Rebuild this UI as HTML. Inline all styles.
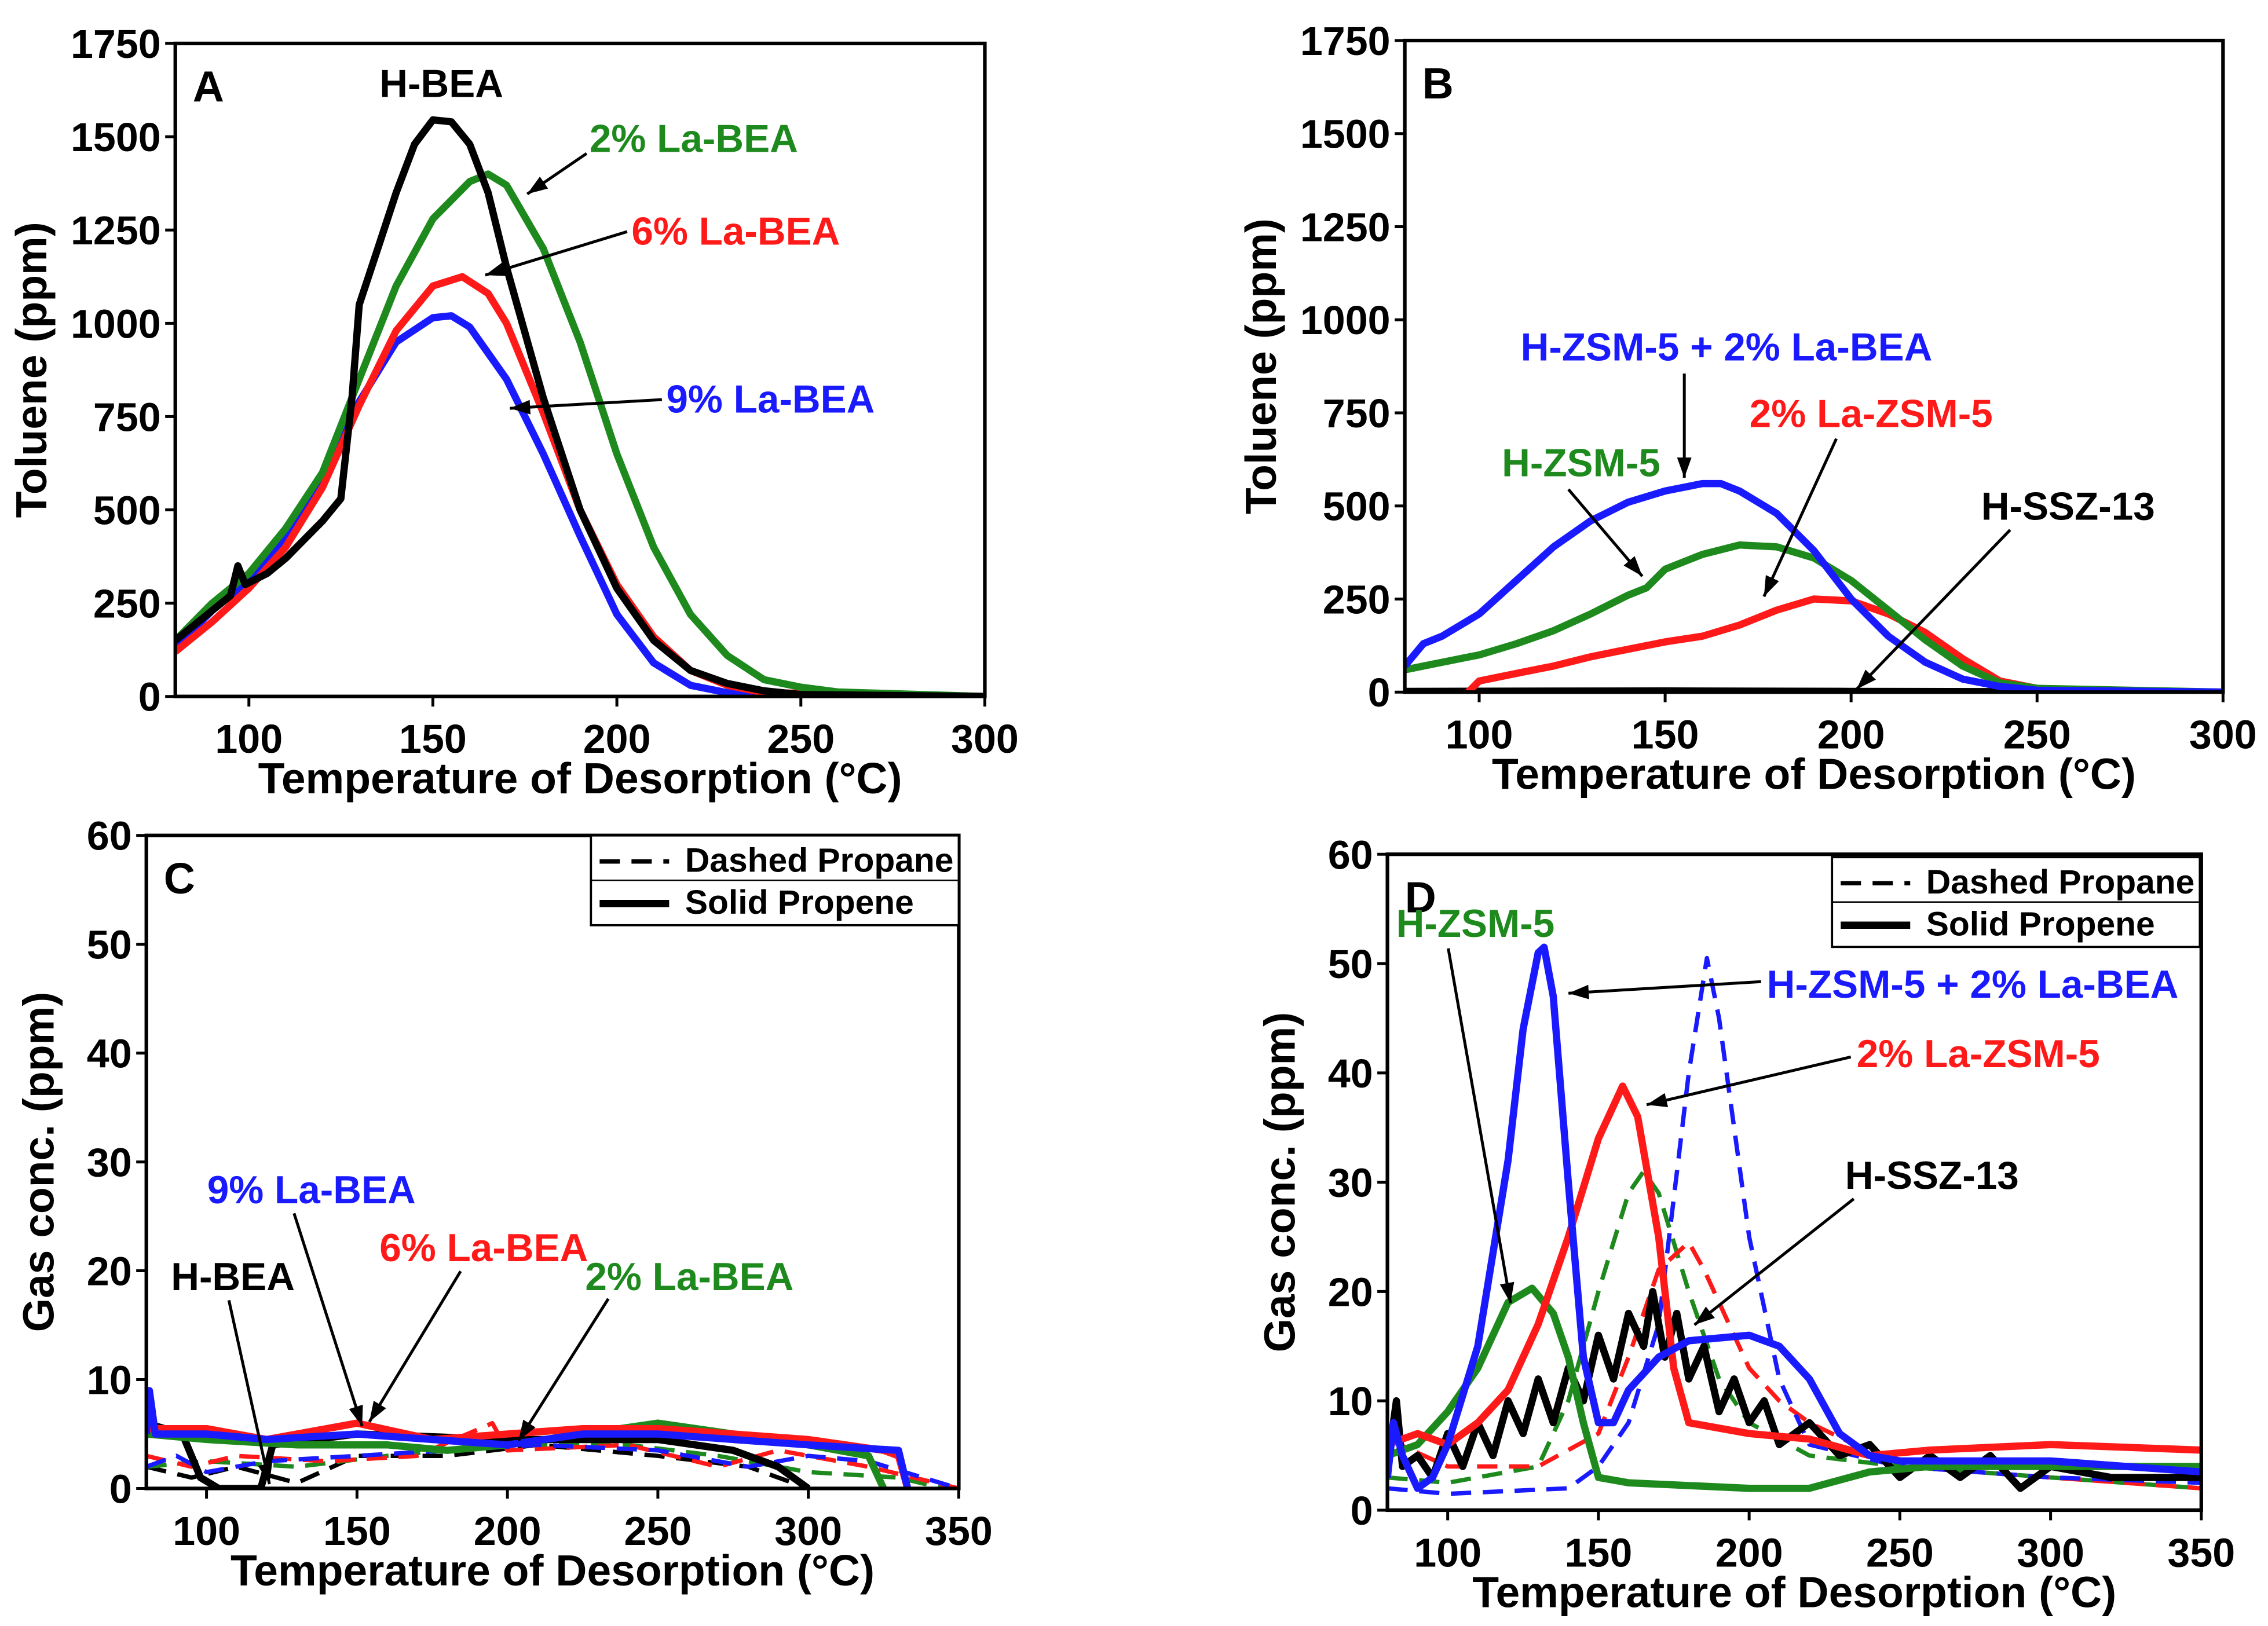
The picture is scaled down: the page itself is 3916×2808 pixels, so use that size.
<!DOCTYPE html>
<html><head><meta charset="utf-8">
<style>
html,body{margin:0;padding:0;background:#fff;}
svg{display:block;font-family:"Liberation Sans",Arial,sans-serif;font-weight:bold;}
</style></head>
<body>
<svg id="fig" xmlns="http://www.w3.org/2000/svg" width="3916" height="2808" viewBox="0 0 1566 1123"></svg>
<script>
// ---------- Panel A data (toluene ppm vs T) ----------
const aHBEA = [[80,150],[90,230],[95,270],[97,350],[99,300],[105,330],[110,370],[120,470],[125,530],[128,800],[130,1050],[135,1200],[140,1350],[145,1480],[150,1545],[155,1540],[160,1480],[165,1350],[170,1150],[180,800],[190,500],[200,290],[210,150],[220,70],[230,35],[240,15],[250,5],[300,0]];
const a2La = [[80,150],[90,250],[100,330],[110,450],[120,600],[130,850],[140,1100],[150,1280],[160,1380],[165,1400],[170,1370],[180,1200],[190,950],[200,650],[210,400],[220,220],[230,110],[240,45],[250,25],[260,12],[300,0]];
const a6La = [[80,120],[90,200],[100,290],[110,400],[120,560],[130,780],[140,980],[150,1100],[158,1125],[165,1080],[170,1000],[180,760],[190,500],[200,300],[210,160],[220,70],[230,30],[240,10],[300,0]];
const a9La = [[80,130],[90,230],[100,310],[110,420],[120,580],[130,790],[140,950],[150,1015],[155,1020],[160,990],[170,850],[180,650],[190,430],[200,220],[210,90],[220,30],[230,10],[300,0]];
// ---------- Panel B data ----------
const bMix = [[80,70],[85,130],[90,150],[100,210],[110,300],[120,390],[130,460],[140,510],[150,540],[160,560],[165,560],[170,540],[180,480],[190,380],[200,250],[210,150],[220,80],[230,35],[240,15],[250,5],[300,0]];
const bHZSM = [[80,60],[90,80],[100,100],[110,130],[120,165],[130,210],[140,260],[145,280],[150,330],[160,370],[170,395],[180,390],[190,360],[200,300],[210,220],[220,140],[230,70],[240,25],[250,10],[300,0]];
const bLaZSM = [[97,0],[100,30],[110,50],[120,70],[130,95],[140,115],[150,135],[160,150],[170,180],[180,220],[190,250],[200,245],[210,210],[220,160],[230,90],[240,30],[250,10],[260,5],[300,0]];
const bSSZ = [[80,2],[150,3],[200,2],[300,0]];
// ---------- Panel C data (gas ppm) ----------
const cBlueS = [[80,5],[81,9],[83,5],[100,5],[120,4.5],[150,5],[175,4.5],[200,4],[225,5],[250,5],[275,4.5],[300,4],[330,3.5],[333,0]];
const cRedS = [[80,5.5],[100,5.5],[120,4.5],[150,6],[175,4.5],[200,5],[225,5.5],[250,5.5],[275,5],[300,4.5],[325,3.5],[330,3],[333,0]];
const cGreenS = [[80,5],[100,4.5],[130,4],[160,4],[180,3.5],[200,4],[225,5],[250,6],[275,5],[300,4],[320,3],[325,0]];
const cBlackS = [[80,6],[92,5],[98,1],[104,0],[118,0],[122,4],[150,5],[200,4.5],[250,4.5],[275,3.5],[290,2],[300,0]];
const cBlueD = [[80,2],[90,3],[100,1.5],[120,2.5],[150,3],[180,3.5],[210,4],[250,3.5],[280,2],[300,3],[320,2.5],[350,0]];
const cRedD = [[80,3],[95,2],[110,3],[140,2.5],[170,3],[195,6],[200,3.5],[240,4],[270,2],[290,3.5],[320,2],[350,0]];
const cGreenD = [[80,2],[100,2.5],[130,2],[160,3],[200,4],[240,4],[270,3],[300,1.5],[330,1],[345,0]];
const cBlackD = [[80,2],[95,1],[110,2],[130,0.5],[150,3],[180,3],[210,4],[250,3],[280,2],[300,0]];
// ---------- Panel D data ----------
const dBlueS = [[80,3],[82,8],[85,5],[90,2],[95,3],[100,6],[110,15],[120,32],[125,44],[130,51],[132,51.5],[135,47],[140,30],[145,14],[150,8],[155,8],[160,11],[170,14],[180,15.5],[200,16],[210,15],[220,12],[230,7],[240,5],[250,4.5],[300,4.5],[350,3.5]];
const dGreenS = [[80,5],[90,6],[100,9],[110,13],[120,19],[128,20.3],[135,18],[140,14],[145,8],[150,3],[160,2.5],[200,2],[220,2],[240,3.5],[260,4],[300,4],[350,4]];
const dRedS = [[80,6],[90,7],[100,6],[110,8],[120,11],[130,17],[140,25],[150,34],[158,38.8],[163,36],[170,25],[175,13],[180,8],[200,7],[220,6.5],[240,5],[260,5.5],[300,6],[350,5.5]];
const dBlackS = [[80,4],[83,10],[85,4],[90,5],[95,3],[100,7],[105,4],[110,8],[115,5],[120,10],[125,7],[130,12],[135,8],[140,13],[145,10],[150,16],[155,12],[160,18],[165,15],[168,20],[172,14],[176,18],[180,12],[185,15],[190,9],[195,12],[200,8],[205,10],[210,6],[220,8],[230,5],[240,6],[250,3],[260,5],[270,3],[280,5],[290,2],[300,4],[320,3],[350,3]];
const dBlueD = [[80,2],[100,1.5],[140,2],[150,4],[160,8],[170,17],[180,40],[186,50.5],[190,45],[200,25],[210,12],[220,6],[250,4],[300,3],[350,2.5]];
const dGreenD = [[80,3],[100,2.5],[130,4],[140,10],[150,20],[160,29],[165,31],[170,29],[180,20],[190,12],[200,8],[220,5],[250,4],[300,3],[350,2]];
const dRedD = [[80,6.5],[100,4],[130,4],[150,7],[160,14],[170,22],[180,24.5],[185,22],[200,13],[210,10],[220,8],[250,4],[300,3],[350,2]];
// ---------- ticks ----------
const xTicksAB = [100,150,200,250,300];
const yTicksAB = [0,250,500,750,1000,1250,1500,1750];
const xTicksCD = [100,150,200,250,300,350];
const yTicksCD = [0,10,20,30,40,50,60];

const NS="http://www.w3.org/2000/svg";
const svg=document.getElementById('fig');
function el(tag,attrs,parent){const e=document.createElementNS(NS,tag);for(const k in attrs)e.setAttribute(k,attrs[k]);(parent||svg).appendChild(e);return e;}
function txt(s,x,y,size,color,anchor,parent,rot){const t=el('text',{x:x,y:y,'font-size':size,fill:color,'text-anchor':anchor||'start'},parent);if(rot)t.setAttribute('transform','rotate(-90 '+x+' '+y+')');t.textContent=s;return t;}

function panel(name,box,xd,yd,xt,yt,ylabel,letter){
  const g=el('g',{});
  
  
  const sx=v=>box.x0+(v-xd[0])/(xd[1]-xd[0])*(box.x1-box.x0);
  const sy=v=>box.y1-(v-yd[0])/(yd[1]-yd[0])*(box.y1-box.y0);
  const ax=el('g',{},g);
  
  
  xt.forEach(t=>{el('line',{x1:sx(t),x2:sx(t),y1:box.y1,y2:box.y1+7,stroke:'#000','stroke-width':2},ax);
    const l=txt(String(t),sx(t),box.y1+39,28,'#000','middle',ax);});
  const ay=el('g',{},g);
  
  
  yt.forEach(t=>{el('line',{x1:box.x0-7,x2:box.x0,y1:sy(t),y2:sy(t),stroke:'#000','stroke-width':2},ay);
    const l=txt(String(t),box.x0-10,sy(t)+10,28,'#000','end',ay);});
  const xl=txt('Temperature of Desorption (°C)',(box.x0+box.x1)/2,box.y1+67,30,'#000','middle',g);
  
  
  const yx=box.x0-(ylabel==='Toluene (ppm)'?89:64);
  const yl=txt(ylabel,yx,(box.y0+box.y1)/2,30,'#000','middle',g,true);
  
  
  const lt=txt(letter,box.x0+12,box.y0+40,30,'#000','start',g);
  
  
  const clip='clip'+letter;
  const cp=el('clipPath',{id:clip},g);el('rect',{x:box.x0,y:box.y0,width:box.x1-box.x0,height:box.y1-box.y0},cp);
  const sg=el('g',{'clip-path':'url(#'+clip+')'},g);
  function series(data,color,sname,dashed){
    const d=data.map((p,i)=>(i?'L':'M')+sx(p[0]).toFixed(1)+' '+sy(p[1]).toFixed(1)).join(' ');
    const p=el('path',{d:d,fill:'none',stroke:color,'stroke-width':dashed?3:5,'stroke-linejoin':'round'},sg);
    if(dashed)p.setAttribute('stroke-dasharray','14 8');
    
    
  }
  el('rect',{x:box.x0,y:box.y0,width:box.x1-box.x0,height:box.y1-box.y0,fill:'none',stroke:'#000','stroke-width':2.5},g);
  return {g,sx,sy,series};
}
function arrow(g,x1,y1,x2,y2,name){
  const a=el('g',{},g);
  
  
  el('line',{x1:x1,y1:y1,x2:x2,y2:y2,stroke:'#000','stroke-width':2},a);
  const ang=Math.atan2(y2-y1,x2-x1),L=14,W=5;
  const bx=x2-L*Math.cos(ang),by=y2-L*Math.sin(ang);
  el('polygon',{points:x2+','+y2+' '+(bx-W*Math.sin(ang))+','+(by+W*Math.cos(ang))+' '+(bx+W*Math.sin(ang))+','+(by-W*Math.cos(ang)),fill:'#000'},a);
}
function label(g,s,x,y,color,name){const t=txt(s,x,y,27,color,'start',g);}
const GR='#1e8a1e',RD='#ff1a1a',BL='#1a1aff',BK='#000';

// Panel A
const A=panel('panel-a',{x0:121,x1:680,y0:30,y1:481},[80,300],[0,1750],xTicksAB,yTicksAB,'Toluene (ppm)','A');
A.series(a9La,BL,'series-9la-bea');A.series(a6La,RD,'series-6la-bea');A.series(a2La,GR,'series-2la-bea');A.series(aHBEA,BK,'series-h-bea');
label(A.g,'H-BEA',262,67,BK,'label-h-bea');
label(A.g,'2% La-BEA',407,105,GR,'label-2la-bea');
label(A.g,'6% La-BEA',436,169,RD,'label-6la-bea');
label(A.g,'9% La-BEA',460,285,BL,'label-9la-bea');
arrow(A.g,405,106,364,134,'arrow-2la');arrow(A.g,433,160,335,190,'arrow-6la');arrow(A.g,457,276,352,282,'arrow-9la');

// Panel B
const B=panel('panel-b',{x0:970,x1:1535,y0:28,y1:478},[80,300],[0,1750],xTicksAB,yTicksAB,'Toluene (ppm)','B');
B.series(bSSZ,BK,'series-h-ssz-13');B.series(bLaZSM,RD,'series-2la-zsm-5');B.series(bHZSM,GR,'series-h-zsm-5');B.series(bMix,BL,'series-h-zsm-5-plus-2la-bea');
label(B.g,'H-ZSM-5 + 2% La-BEA',1050,249,BL,'label-mix');
label(B.g,'2% La-ZSM-5',1208,295,RD,'label-2la-zsm-5');
label(B.g,'H-ZSM-5',1037,329,GR,'label-h-zsm-5');
label(B.g,'H-SSZ-13',1368,359,BK,'label-h-ssz-13');
arrow(B.g,1163,258,1163,330,'arrow-mix');arrow(B.g,1268,303,1218,412,'arrow-2la-zsm');arrow(B.g,1083,338,1134,398,'arrow-h-zsm');arrow(B.g,1388,366,1282,476,'arrow-ssz');

// Panel C
const C=panel('panel-c',{x0:101,x1:662,y0:577,y1:1028},[80,350],[0,60],xTicksCD,yTicksCD,'Gas conc. (ppm)','C');
C.series(cBlackD,BK,'series-h-bea-propane',1);C.series(cGreenD,GR,'series-2la-propane',1);C.series(cRedD,RD,'series-6la-propane',1);C.series(cBlueD,BL,'series-9la-propane',1);
C.series(cBlackS,BK,'series-h-bea-propene');C.series(cGreenS,GR,'series-2la-propene');C.series(cRedS,RD,'series-6la-propene');C.series(cBlueS,BL,'series-9la-propene');
label(C.g,'9% La-BEA',143,831,BL,'label-9la-bea');
label(C.g,'6% La-BEA',262,871,RD,'label-6la-bea');
label(C.g,'2% La-BEA',404,891,GR,'label-2la-bea');
label(C.g,'H-BEA',118,891,BK,'label-h-bea');
arrow(C.g,203,838,250,985,'arrow-9la');arrow(C.g,318,878,255,982,'arrow-6la');arrow(C.g,420,897,358,995,'arrow-2la');arrow(C.g,158,898,186,1025,'arrow-hbea');
function legend(g,x,y){const lg=el('g',{},g);
  
  
  el('rect',{x:x,y:y,width:254,height:62,fill:'#fff',stroke:'#000','stroke-width':1.5},lg);
  el('line',{x1:x+6,x2:x+54,y1:y+18,y2:y+18,stroke:'#000','stroke-width':3,'stroke-dasharray':'14 8'},lg);
  el('line',{x1:x+6,x2:x+54,y1:y+47,y2:y+47,stroke:'#000','stroke-width':5},lg);
  const t1=txt('Dashed Propane',x+65,y+25,23.5,'#000','start',lg);
  const t2=txt('Solid Propene',x+65,y+54,23.5,'#000','start',lg);
  el('line',{x1:x,x2:x+254,y1:y+31,y2:y+31,stroke:'#000','stroke-width':1},lg);
}
legend(C.g,408,577);

// Panel D
const D=panel('panel-d',{x0:958,x1:1520,y0:590,y1:1043},[80,350],[0,60],xTicksCD,yTicksCD,'Gas conc. (ppm)','D');
D.series(dGreenD,GR,'series-h-zsm-5-propane',1);D.series(dRedD,RD,'series-2la-zsm-5-propane',1);D.series(dBlueD,BL,'series-mix-propane',1);
D.series(dBlackS,BK,'series-h-ssz-13-propene');D.series(dGreenS,GR,'series-h-zsm-5-propene');D.series(dRedS,RD,'series-2la-zsm-5-propene');D.series(dBlueS,BL,'series-mix-propene');
legend(D.g,1265,592);
label(D.g,'H-ZSM-5',964,647,GR,'label-h-zsm-5');
label(D.g,'H-ZSM-5 + 2% La-BEA',1220,689,BL,'label-mix');
label(D.g,'2% La-ZSM-5',1282,737,RD,'label-2la-zsm-5');
label(D.g,'H-SSZ-13',1274,821,BK,'label-h-ssz-13');
arrow(D.g,1000,655,1043,900,'arrow-h-zsm');arrow(D.g,1216,678,1083,686,'arrow-mix');arrow(D.g,1278,730,1137,763,'arrow-2la-zsm');arrow(D.g,1280,828,1170,915,'arrow-ssz');
</script>
</body></html>
